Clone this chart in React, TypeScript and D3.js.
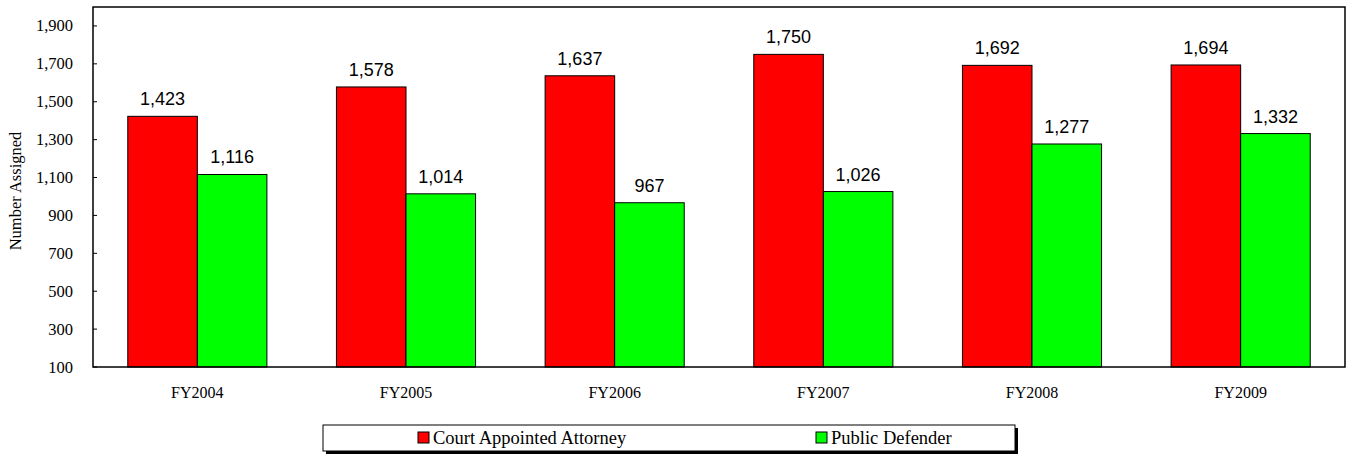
import React from "react";
import * as d3 from "d3";

const categories = ["FY2004", "FY2005", "FY2006", "FY2007", "FY2008", "FY2009"];
const seriesNames = ["Court Appointed Attorney", "Public Defender"];
const courtAppointed = [1423, 1578, 1637, 1750, 1692, 1694];
const publicDefender = [1116, 1014, 967, 1026, 1277, 1332];
const yTicks = [100, 300, 500, 700, 900, 1100, 1300, 1500, 1700, 1900];
const colors = ["#ff0000", "#00ff00"];

export default function App() {
  const W = 1346, H = 460;
  const left = 93, right = 1345, top = 7, bottom = 367;
  const x0 = d3.scaleBand<string>().domain(categories).range([left, right]).paddingInner(0.3333).paddingOuter(0.16667);
  const x1 = d3.scaleBand<number>().domain([0, 1]).range([0, x0.bandwidth()]);
  const y = d3.scaleLinear().domain([100, 2000]).range([bottom, top]);
  const fmt = d3.format(",");
  const series = [courtAppointed, publicDefender];
  const serif = "'Liberation Serif', 'Times New Roman', serif";
  const sans = "'Liberation Sans', Arial, sans-serif";

  return (
    <svg width={W} height={H} style={{ position: "absolute", left: 0, top: 0, background: "#fff" }}>
      <rect x={0} y={0} width={W} height={H} fill="#fff" />
      {categories.map((c, i) => (
        <g key={c}>
          {series.map((s, j) => {
            const bx = (x0(c) as number) + (x1(j) as number);
            const by = y(s[i]);
            return (
              <g key={j}>
                <rect x={bx} y={by} width={x1.bandwidth()} height={bottom - by} fill={colors[j]} stroke="#000" strokeWidth={1} />
                <text x={bx + x1.bandwidth() / 2} y={by - 11} textAnchor="middle" fontFamily={sans} fontSize={18} fill="#000">
                  {fmt(s[i])}
                </text>
              </g>
            );
          })}
          <text x={(x0(c) as number) + x0.bandwidth() / 2} y={398} textAnchor="middle" fontFamily={serif} fontSize={16} fill="#000">
            {c}
          </text>
        </g>
      ))}
      <rect x={left} y={top} width={right - left} height={bottom - top} fill="none" stroke="#000" strokeWidth={1.5} />
      {yTicks.map((t) => (
        <g key={t}>
          <line x1={left} x2={left + 4} y1={y(t)} y2={y(t)} stroke="#000" strokeWidth={1} />
          <text x={73} y={y(t) + 5.5} textAnchor="end" fontFamily={serif} fontSize={16.5} fill="#000">
            {fmt(t)}
          </text>
        </g>
      ))}
      <text transform={`translate(21,${(top + bottom) / 2 + 4}) rotate(-90)`} textAnchor="middle" fontFamily={serif} fontSize={16.5} fill="#000">
        Number Assigned
      </text>
      <g>
        <rect x={326} y={428} width={692} height={26} fill="#000" />
        <rect x={323} y={425} width={692} height={26} fill="#fff" stroke="#000" strokeWidth={1} />
        {seriesNames.map((n, j) => {
          const lx = j === 0 ? 418 : 816;
          return (
            <g key={n}>
              <rect x={lx} y={432} width={11} height={11} fill={colors[j]} stroke="#000" strokeWidth={1} />
              <text x={lx + 15} y={444} fontFamily={serif} fontSize={18.5} fill="#000">
                {n}
              </text>
            </g>
          );
        })}
      </g>
    </svg>
  );
}
